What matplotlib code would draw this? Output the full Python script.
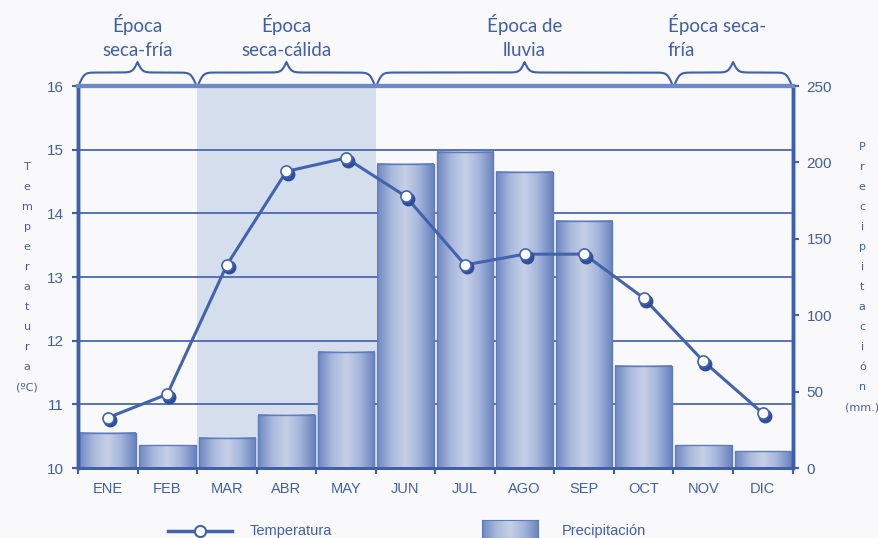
import matplotlib
matplotlib.use("Agg")
import matplotlib.pyplot as plt
import matplotlib.transforms as mtransforms
from matplotlib.colors import LinearSegmentedColormap
from matplotlib.lines import Line2D
import numpy as np

plt.rcParams["font.family"] = ["Liberation Sans", "DejaVu Sans"]

months = ["ENE", "FEB", "MAR", "ABR", "MAY", "JUN", "JUL", "AGO", "SEP", "OCT", "NOV", "DIC"]
temperatura = [10.79, 11.16, 13.19, 14.66, 14.87, 14.27, 13.19, 13.36, 13.36, 12.67, 11.68, 10.86]
precipitacion = [23, 15, 20, 35, 76, 199, 207, 194, 162, 67, 15, 11]

season_labels = ["Época\nseca-fría", "Época\nseca-cálida", "Época de\nlluvia", "Época seca-\nfría"]
season_start = [0, 2, 5, 10]
season_end = [1, 4, 9, 11]

BLUE = "#3f5fa8"
LINE = "#4263ad"
BG = "#eef1f8"
SHADE = "#d5deed"

fig = plt.figure(figsize=(8.79, 5.38), dpi=100)
fig.patch.set_facecolor("#f9f9fb")

ax = fig.add_axes([0.0887, 0.130, 0.813, 0.710])
ax2 = ax.twinx()
ax.set_zorder(ax2.get_zorder() + 1)
ax.patch.set_visible(False)
ax2.patch.set_facecolor(BG)

x = np.arange(len(months))

# dry-warm season band
ax2.axvspan(season_start[1] - 0.5, season_end[1] + 0.5, color=SHADE, zorder=0, lw=0)

# grid lines at temperature values, below the bars
blend = mtransforms.blended_transform_factory(ax2.transAxes, ax.transData)
for t in range(11, 16):
    ax2.plot([0, 1], [t, t], color="#4a68b0", lw=1.3, transform=blend, zorder=1)

# gradient bars
cmap = LinearSegmentedColormap.from_list("cyl", ["#6f88c2", "#a9b9dc", "#c6d0e7", "#a3b4da", "#6a83bf"])
grad = np.linspace(0, 1, 64).reshape(1, -1)
w = 0.95
for xi, v in zip(x, precipitacion):
    ax2.imshow(grad, extent=[xi - w / 2, xi + w / 2, 0, v], aspect="auto",
               cmap=cmap, zorder=2, interpolation="bilinear")
ax2.bar(x, precipitacion, width=w, fill=False, edgecolor="#5f7cba", lw=1.0, zorder=3)

ax2.set_xlim(-0.5, 11.5)
ax2.set_ylim(0, 250)
ax2.set_yticks([0, 50, 100, 150, 200, 250])

# temperature line with shadowed markers
shadow = mtransforms.offset_copy(ax.transData, fig=fig, x=2, y=-2.5, units="dots")
ax.plot(x, temperatura, color=LINE, lw=2.2, zorder=3)
ax.plot(x, temperatura, ls="none", marker="o", ms=9, mfc="#2f4f9c", mec="#2f4f9c",
        transform=shadow, zorder=4)
ax.plot(x, temperatura, ls="none", marker="o", ms=8, mfc="white", mec=LINE, mew=1.2, zorder=5)

ax.set_xlim(-0.5, 11.5)
ax.set_ylim(10, 16)
ax.set_yticks(range(10, 17))
ax.set_xticks(np.arange(-0.5, 12, 1))
ax.set_xticklabels([])
ax.set_xticks(x, minor=True)
ax.set_xticklabels(months, minor=True)

for a in (ax, ax2):
    for s in a.spines.values():
        s.set_color(BLUE)
    a.spines["left"].set_linewidth(2.5)
    a.spines["right"].set_linewidth(2.5)
    a.spines["bottom"].set_linewidth(2)
    a.spines["top"].set_linewidth(3)
    a.spines["top"].set_color("#6f89c4")

ax.tick_params(axis="y", colors=BLUE, labelsize=11, length=4, width=1.5, pad=6)
ax.tick_params(axis="x", which="major", colors=BLUE, length=4, width=1.5, direction="out")
ax.tick_params(axis="x", which="minor", colors=BLUE, labelsize=10.5, length=0, pad=10)
ax2.tick_params(axis="y", colors=BLUE, labelsize=11, length=4, width=1.5, pad=6)

# stacked axis titles
fig.text(0.031, 0.485, "\n".join(list("Temperatura")) + "\n(ºC)", ha="center", va="center",
         color=BLUE, fontsize=8, linespacing=2.25, family=["DejaVu Sans"])
fig.text(0.981, 0.485, "\n".join(list("Precipitación")) + "\n(mm.)", ha="center", va="center",
         color=BLUE, fontsize=8, linespacing=2.25, family=["DejaVu Sans"])


def brace(a, x0, x1, y0, y1, beta=25.0):
    # curly brace between x0 and x1, ends at y0, tip at y1 (axes coords)
    n = 401
    xs = np.linspace(x0, x1, n)
    xh = xs[: n // 2 + 1]
    yh = 1 / (1 + np.exp(-beta * (xh - xh[0]))) + 1 / (1 + np.exp(-beta * (xh - xh[-1])))
    yy = np.concatenate([yh, yh[-2::-1]])
    yy = yy - 0.5
    tr = mtransforms.blended_transform_factory(a.transData, a.transAxes)
    a.plot(xs, y0 + (y1 - y0) * yy, color=BLUE, lw=1.5, transform=tr, clip_on=False)


tr_top = mtransforms.blended_transform_factory(ax.transData, ax.transAxes)
for lab, s, e in zip(season_labels, season_start, season_end):
    brace(ax, s - 0.5 + 0.03, e + 0.5 - 0.03, 1.008, 1.063)
    cx = (s + e) / 2
    ha = "center"
    if s == 10:
        cx = s - 0.6
        ha = "left"
    ax.text(cx, 1.072, lab, ha=ha, va="bottom", color=BLUE, fontsize=13.5,
            linespacing=1.45, transform=tr_top, family=["Lato", "DejaVu Sans"])

# legend at the bottom
fig.add_artist(Line2D([168 / 879, 232 / 879], [1 - 531 / 538] * 2, color=LINE, lw=2.5))
fig.add_artist(Line2D([200 / 879], [1 - 531 / 538], marker="o", ms=8, mfc="white", mec=LINE, mew=1.5))
fig.text(250 / 879, 1 - 531 / 538, "Temperatura", color=BLUE, fontsize=10.5, va="center")
lax = fig.add_axes([482 / 879, 0, 56 / 879, 18 / 538])
lax.imshow(grad, aspect="auto", cmap=cmap, extent=[0, 1, 0, 1])
lax.set_xticks([])
lax.set_yticks([])
for s in lax.spines.values():
    s.set_color("#5f7cba")
fig.text(562 / 879, 1 - 531 / 538, "Precipitación", color=BLUE, fontsize=10.5, va="center")

plt.savefig("out.png", dpi=100, facecolor=fig.get_facecolor())
